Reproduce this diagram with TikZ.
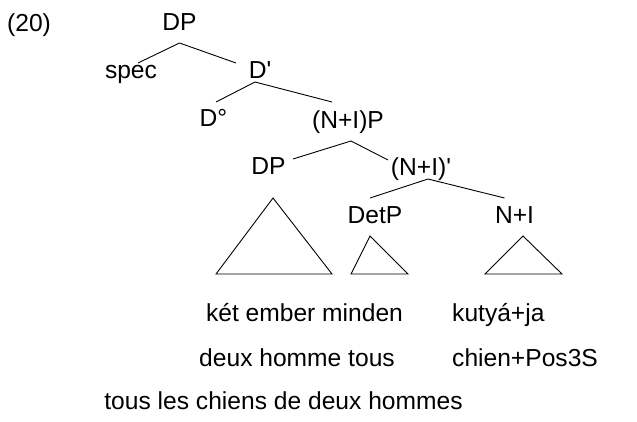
\documentclass[tikz,border=0pt]{standalone}
\usepackage{fontspec}
\setmainfont{Liberation Sans}
\tikzset{lbl/.style = {inner sep = 0, anchor = base, font = \fontsize{24.6}{29}\selectfont}}
\tikzset{branch/.style = {line width = 0.9pt}}

\begin{document}
\begin{tikzpicture}[x=1pt, y=1pt]
    \useasboundingbox (0,0) rectangle (637,421);
    \node [lbl, anchor=base west] (ex) at (7,389.5) {(20)};

    % tree labels
    \node [lbl] (dp) at (179.5,390) {DP};
    \node [lbl] (spec) at (131,342) {spec};
    \node [lbl] (dbar) at (260,342) {D\textquotesingle};
    \node [lbl] (dzero) at (213.5,294) {D°};
    \node [lbl] (nip) at (348,292) {(N+I)P};
    \node [lbl] (dpb) at (268.5,246) {DP};
    \node [lbl] (nibar) at (421,245) {(N+I)\textquotesingle};
    \node [lbl] (detp) at (375,198) {DetP};
    \node [lbl] (ni) at (514.5,198) {N+I};

    % branches
    \draw [branch] ([yshift=-12]dp.base) -- ([shift={(7,16)}]spec.base);
    \draw [branch] ([yshift=-12]dp.base) -- ([shift={(-24,16)}]dbar.base);
    \draw [branch] ([shift={(-5,-3)}]dbar.base) -- ([shift={(2.5,25)}]dzero.base);
    \draw [branch] ([shift={(-5,-3)}]dbar.base) -- ([shift={(-16,27)}]nip.base);
    \draw [branch] ([shift={(3,-12)}]nip.base) -- ([shift={(24.5,16)}]dpb.base);
    \draw [branch] ([shift={(3,-12)}]nip.base) -- ([shift={(-33,16)}]nibar.base);
    \draw [branch] ([shift={(7,-3)}]nibar.base) -- ([shift={(-5,25)}]detp.base);
    \draw [branch] ([shift={(7,-3)}]nibar.base) -- ([shift={(-10,25)}]ni.base);

    % triangles
    \draw [branch] (273,223) -- (216,147) -- (332,147) -- cycle;
    \draw [branch] (370,185) -- (351,147) -- (408,147) -- cycle;
    \draw [branch] (523,185) -- (485,147) -- (562,147) -- cycle;

    % glosses
    \node [lbl] (hu) at (304.5,100) {két ember minden};
    \node [lbl, anchor=base west] (hun) at (452,100) {kutyá+ja};
    \node [lbl] (fr) at (297,55) {deux homme tous};
    \node [lbl, anchor=base west] (frn) at (452,55) {chien+Pos3S};
    \node [lbl] (tr) at (283.5,12) {tous les chiens de deux hommes};
\end{tikzpicture}
\end{document}
